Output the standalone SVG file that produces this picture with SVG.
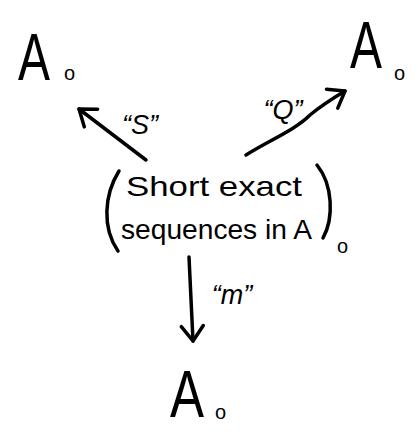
<svg xmlns="http://www.w3.org/2000/svg" width="418" height="434" viewBox="0 0 418 434">
<style>
.big{font-family:"Liberation Sans",Arial,sans-serif;font-size:66px;fill:#000}
.sub{font-family:"Liberation Sans",Arial,sans-serif;font-size:20px;fill:#000}
.txt{font-family:"Liberation Sans",Arial,sans-serif;font-size:28px;fill:#000}
.lbl{font-family:"Liberation Sans",Arial,sans-serif;font-size:27px;font-style:italic;fill:#000}
.ln{fill:none;stroke:#000;stroke-width:3.5;stroke-linecap:round;stroke-linejoin:round}
</style>
<defs>
<marker id="ah" markerUnits="userSpaceOnUse" markerWidth="30" markerHeight="30" viewBox="-20 -15 30 30" refX="0" refY="0" orient="auto">
<path d="M-15,-11 L0,0 L-15,11" fill="none" stroke="#000" stroke-width="3.5" stroke-linecap="round" stroke-linejoin="round"/>
</marker>
</defs>
<rect width="418" height="434" fill="#fff"/>
<g id="node-A-left">
<text class="big" x="18" y="80" textLength="32" lengthAdjust="spacingAndGlyphs">A</text>
<text class="sub" x="64" y="80">o</text>
</g>
<g id="node-A-right">
<text class="big" x="350" y="68" textLength="32" lengthAdjust="spacingAndGlyphs">A</text>
<text class="sub" x="394" y="80">o</text>
</g>
<g id="node-center">
<path class="ln" d="M119,171 C104,195 102,228 118,251"/>
<text class="txt" x="126" y="196" textLength="176" lengthAdjust="spacingAndGlyphs">Short exact</text>
<text class="txt" x="121" y="239" textLength="191" lengthAdjust="spacingAndGlyphs">sequences in A</text>
<path class="ln" d="M317,165 C333,185 334,218 323,238"/>
<text class="sub" x="337" y="253">o</text>
</g>
<g id="node-A-bottom">
<text class="big" x="170" y="417" textLength="34" lengthAdjust="spacingAndGlyphs">A</text>
<text class="sub" x="215" y="419">o</text>
</g>
<g id="connectors">
<path class="ln" d="M146,160 L79,109" marker-end="url(#ah)"/>
<text class="lbl" x="140" y="134" text-anchor="middle">“S”</text>
<path class="ln" d="M246,155 C270,140 295,130 310,115 C322,105 335,97 345,91" marker-end="url(#ah)"/>
<text class="lbl" x="283" y="119" text-anchor="middle">“Q”</text>
<path class="ln" d="M189,257 L193,341" marker-end="url(#ah)"/>
<text class="lbl" x="232" y="304" text-anchor="middle">“m”</text>
</g>
</svg>
